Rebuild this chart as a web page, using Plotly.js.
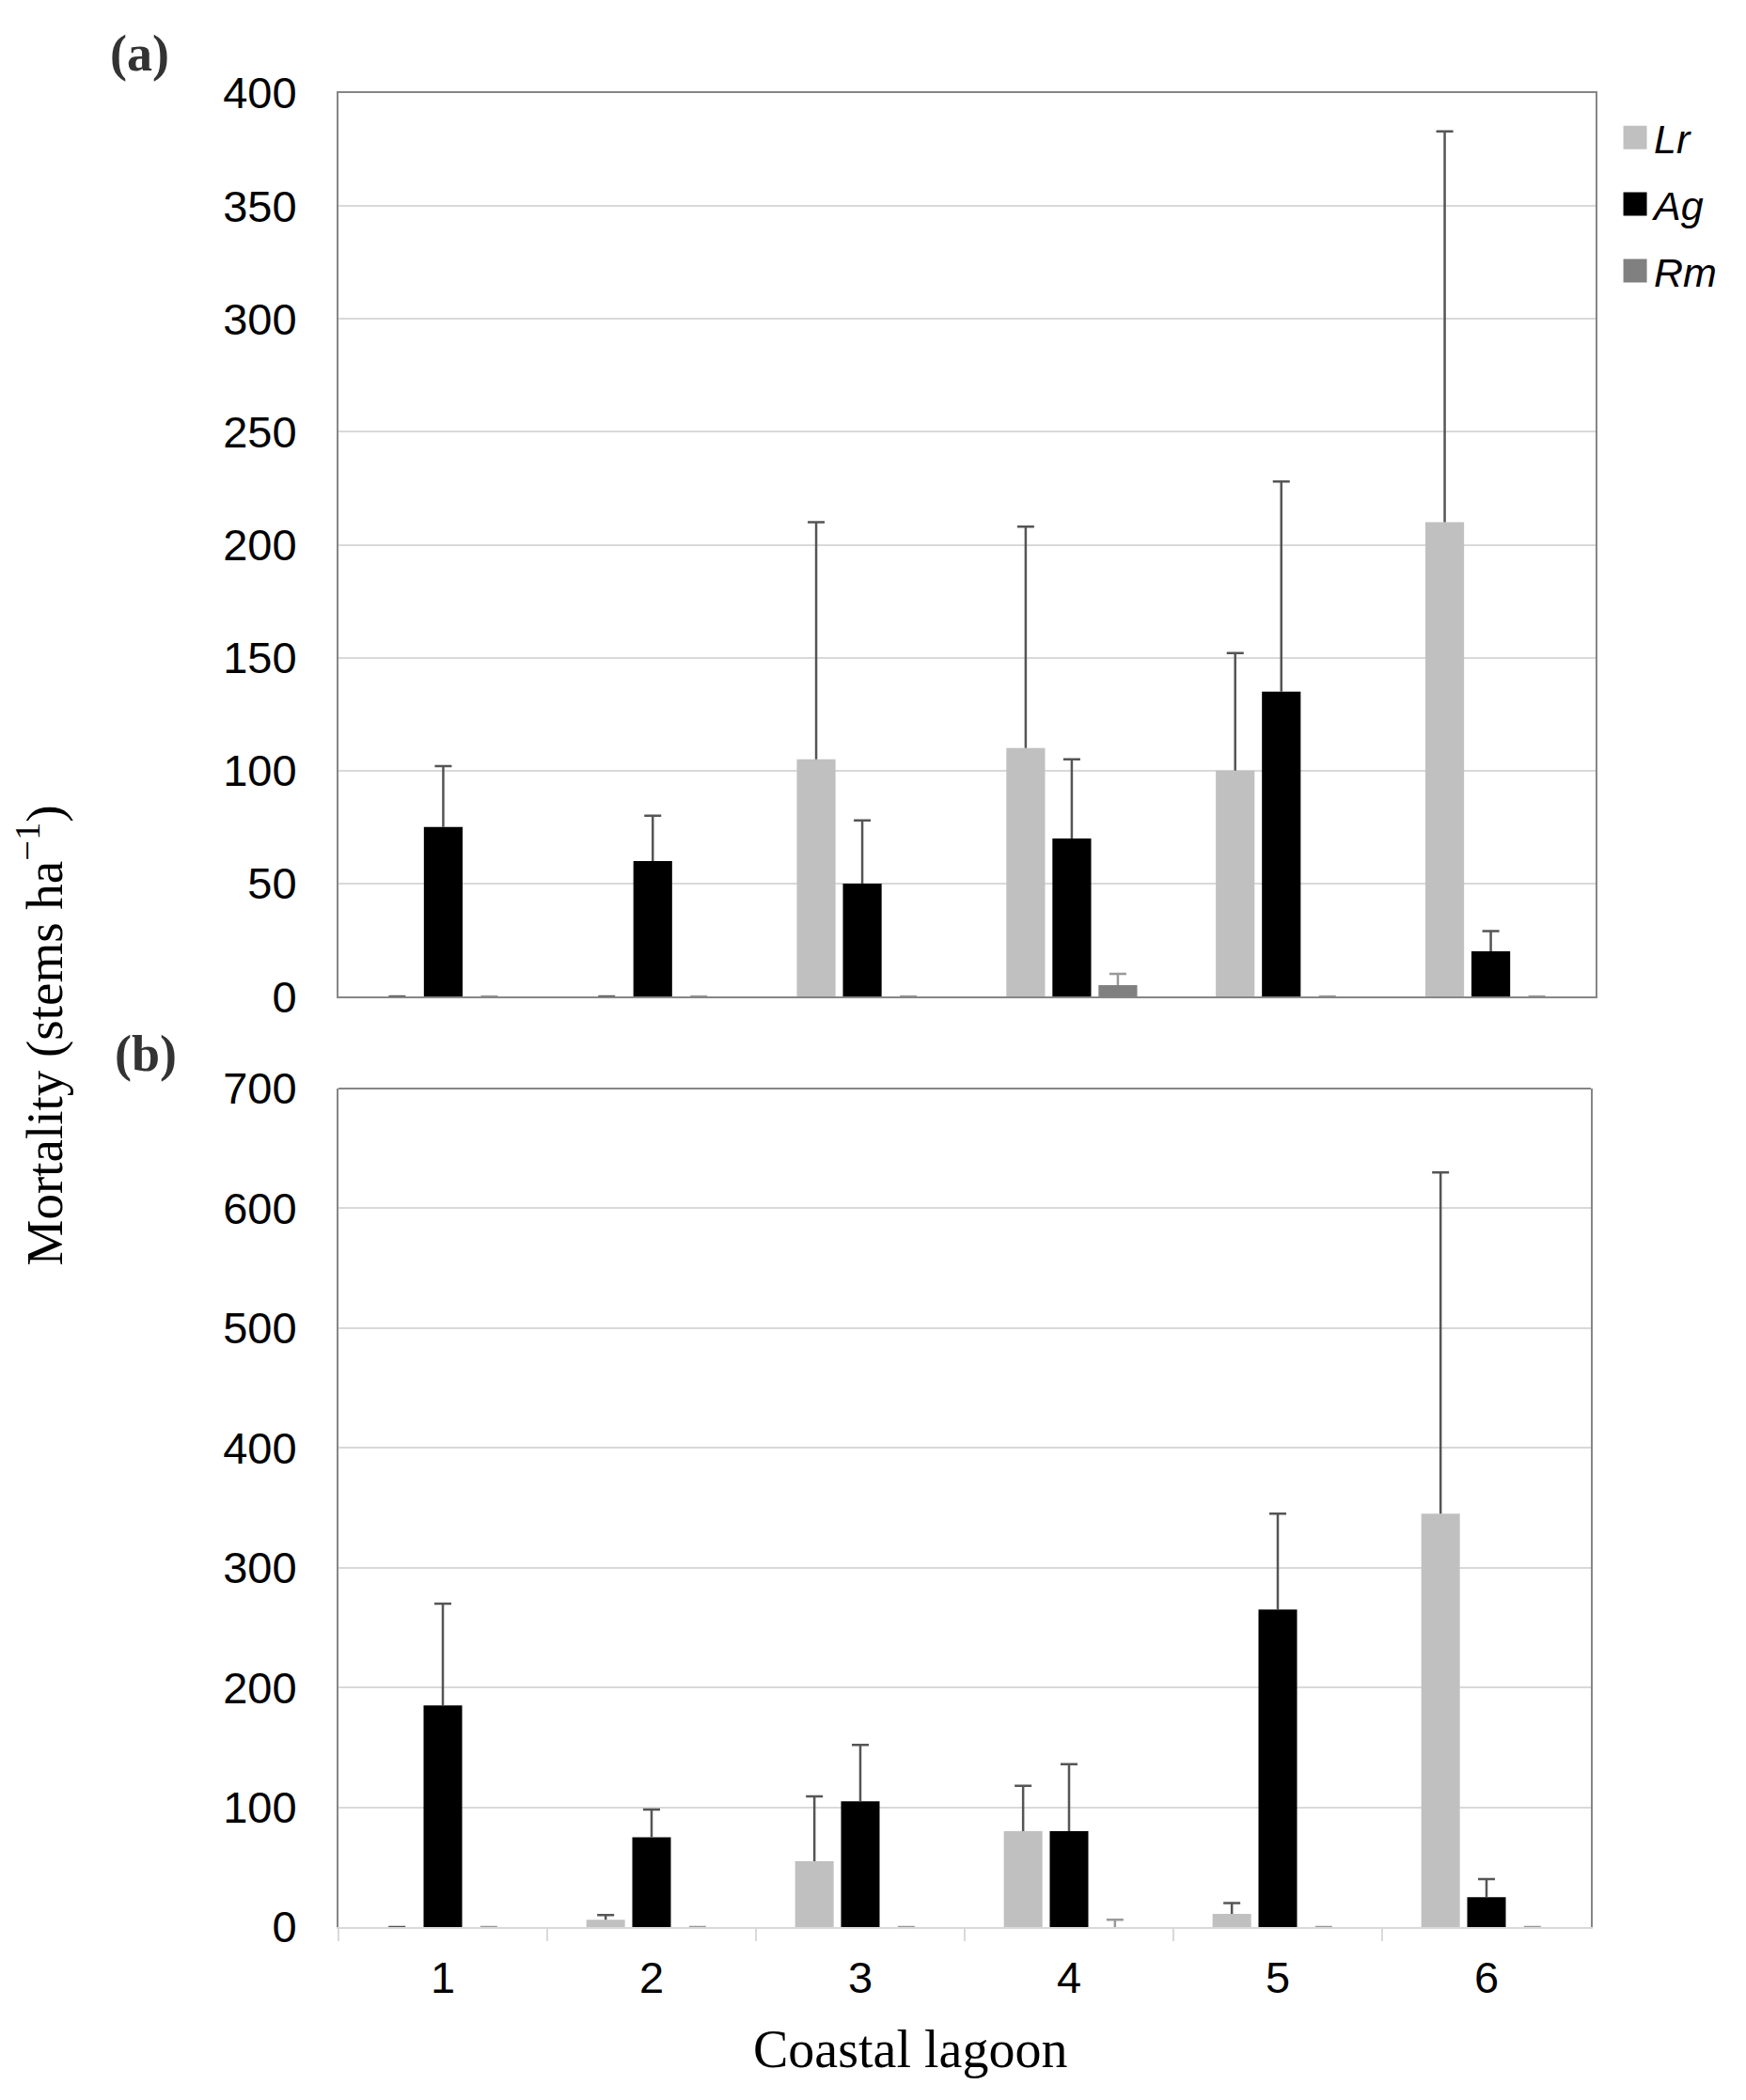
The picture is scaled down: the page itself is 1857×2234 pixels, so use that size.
<!DOCTYPE html>
<html>
<head>
<meta charset="utf-8">
<script src="https://cdn.plot.ly/plotly-3.0.1.min.js"></script>
<style>
  html, body { margin: 0; padding: 0; background: #ffffff; }
  #chart { width: 1857px; height: 2234px; }
</style>
</head>
<body>
<div id="chart"></div>
<script>
// Coastal lagoons on the category axis
const lagoons = ['1', '2', '3', '4', '5', '6'];
const speciesNames = ['Lr', 'Ag', 'Rm'];

// Panel (a): mean mortality and upper error (stems ha-1)
const lrA    = [0, 0, 105, 110, 100, 210];
const lrAErr = [0, 0, 105, 98, 52, 173];
const agA    = [75, 60, 50, 70, 135, 20];
const agAErr = [27, 20, 28, 35, 93, 9];
const rmA    = [0, 0, 0, 5, 0, 0];
const rmAErr = [0, 0, 0, 5, 0, 0];

// Panel (b): mean mortality and upper error (stems ha-1)
const lrB    = [0, 6, 55, 80, 11, 345];
const lrBErr = [null, 4, 54, 38, 9, 285];
const agB    = [185, 75, 105, 80, 265, 25];
const agBErr = [85, 23, 47, 56, 80, 15];
const rmB    = [0, 0, 0, 0, 0, 0];
const rmBErr = [0, 0, 0, 6, 0, 0];

const yTicksA = [0, 50, 100, 150, 200, 250, 300, 350, 400];
const yTicksB = [0, 100, 200, 300, 400, 500, 600, 700];

const fillColors = { Lr: '#c0c0c0', Ag: '#000000', Rm: '#808080' };
const errColors  = { Lr: '#555555', Ag: '#555555', Rm: '#999999' };

function barTrace(name, y, err, xa, ya, showLegend) {
  return {
    type: 'bar',
    name: name,
    x: lagoons,
    y: y,
    xaxis: xa,
    yaxis: ya,
    legendgroup: name,
    showlegend: showLegend,
    marker: { color: fillColors[name], line: { width: 0 } },
    error_y: {
      type: 'data',
      symmetric: false,
      array: err,
      arrayminus: y.map(() => 0),
      color: errColors[name],
      thickness: 2.5,
      width: 9
    },
    hoverinfo: 'x+y+name'
  };
}

const data = [
  barTrace('Lr', lrA, lrAErr, 'x', 'y', true),
  barTrace('Ag', agA, agAErr, 'x', 'y', true),
  barTrace('Rm', rmA, rmAErr, 'x', 'y', true),
  barTrace('Lr', lrB, lrBErr, 'x2', 'y2', false),
  barTrace('Ag', agB, agBErr, 'x2', 'y2', false),
  barTrace('Rm', rmB, rmBErr, 'x2', 'y2', false)
];

const tickFont = { family: 'Liberation Sans, Arial, sans-serif', size: 47, color: '#000000' };
const serif = 'Liberation Serif, Times New Roman, serif';
const frameColor = '#868686';
const gridColor = '#d9d9d9';

const layout = {
  width: 1857,
  height: 2234,
  paper_bgcolor: '#ffffff',
  plot_bgcolor: '#ffffff',
  margin: { l: 360, r: 160, t: 99, b: 184 },
  barmode: 'group',
  bargap: 0.34,
  bargroupgap: 0.16,
  showlegend: true,
  legend: {
    x: 1.0165,
    xanchor: 'left',
    y: 0.9935,
    yanchor: 'top',
    font: { family: 'Liberation Sans, Arial, sans-serif', size: 43, color: '#000000', style: 'italic' },
    tracegroupgap: 12,
    bgcolor: 'rgba(0,0,0,0)',
    borderwidth: 0
  },
  xaxis: {
    type: 'category',
    domain: [0, 1],
    anchor: 'y',
    showticklabels: false,
    ticks: '',
    showgrid: false,
    showline: true,
    linecolor: frameColor,
    linewidth: 2,
    mirror: true,
    zeroline: false
  },
  yaxis: {
    domain: [0.5074, 1],
    anchor: 'x',
    range: [0, 400],
    tickvals: yTicksA,
    ticktext: yTicksA.map(String),
    tickfont: tickFont,
    ticks: '',
    ticklabelstandoff: 33,
    showgrid: true,
    gridcolor: gridColor,
    gridwidth: 2,
    showline: true,
    linecolor: frameColor,
    linewidth: 2,
    mirror: true,
    zeroline: false
  },
  xaxis2: {
    type: 'category',
    domain: [0, 0.99626],
    anchor: 'y2',
    tickfont: tickFont,
    tickson: 'boundaries',
    ticks: 'outside',
    ticklen: 13,
    tickwidth: 2,
    tickcolor: gridColor,
    ticklabelstandoff: 12,
    showgrid: false,
    showline: true,
    linecolor: gridColor,
    linewidth: 2,
    zeroline: false
  },
  yaxis2: {
    domain: [0, 0.4572],
    anchor: 'x2',
    range: [0, 700],
    tickvals: yTicksB,
    ticktext: yTicksB.map(String),
    tickfont: tickFont,
    ticks: '',
    ticklabelstandoff: 33,
    showgrid: true,
    gridcolor: gridColor,
    gridwidth: 2,
    showline: true,
    linecolor: frameColor,
    linewidth: 2,
    mirror: true,
    zeroline: false
  },
  shapes: [
    // top border of the lower panel
    {
      type: 'line', xref: 'x2 domain', yref: 'y2 domain',
      x0: 0, x1: 1, y0: 1, y1: 1,
      line: { color: frameColor, width: 2 }
    }
  ],
  annotations: [
    {
      text: '<b>(a)</b>', xref: 'paper', yref: 'paper',
      x: -0.1585, y: 1.0215, xanchor: 'center', yanchor: 'middle', showarrow: false,
      font: { family: serif, size: 54, color: '#333333' }
    },
    {
      text: '<b>(b)</b>', xref: 'paper', yref: 'paper',
      x: -0.1533, y: 0.4762, xanchor: 'center', yanchor: 'middle', showarrow: false,
      font: { family: serif, size: 54, color: '#333333' }
    },
    {
      text: 'Mortality (stems ha<sup>−1</sup>)', xref: 'paper', yref: 'paper',
      x: -0.2375, y: 0.4864, xanchor: 'center', yanchor: 'middle', showarrow: false,
      textangle: -90,
      font: { family: serif, size: 55, color: '#000000' }
    },
    {
      text: 'Coastal lagoon', xref: 'paper', yref: 'paper',
      x: 0.4548, y: -0.0666, xanchor: 'center', yanchor: 'middle', showarrow: false,
      font: { family: serif, size: 56, color: '#000000' }
    }
  ]
};

// Upper-only error bars without a foot cap; larger legend swatches.
function refineMarks(gd) {
  gd.querySelectorAll('path.yerror').forEach(function (p) {
    const d = p.getAttribute('d') || '';
    const trimmed = d.replace(/m-?[\d.]+,0h[\d.]+\s*$/, '');
    if (trimmed !== d) p.setAttribute('d', trimmed);
  });
  gd.querySelectorAll('.legend .legendpoints path').forEach(function (p) {
    p.setAttribute('d', 'M12.5,12.5H-12.5V-12.5H12.5Z');
  });
}

const chartDiv = document.getElementById('chart');
Plotly.newPlot(chartDiv, data, layout, { displayModeBar: false, staticPlot: true }).then(function () {
  refineMarks(chartDiv);
  chartDiv.on('plotly_afterplot', function () { refineMarks(chartDiv); });
});
</script>
</body>
</html>
